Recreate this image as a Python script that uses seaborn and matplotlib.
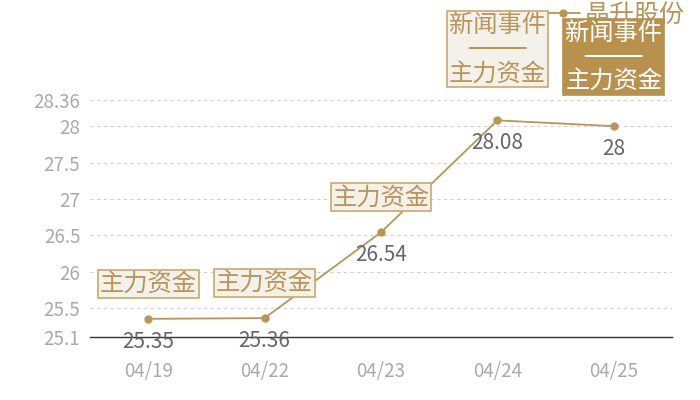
import matplotlib
matplotlib.use("Agg")
import matplotlib.pyplot as plt
import seaborn as sns
import pandas as pd

dates = ["04/19", "04/22", "04/23", "04/24", "04/25"]
prices = [25.35, 25.36, 26.54, 28.08, 28.00]
price_labels = ["25.35", "25.36", "26.54", "28.08", "28"]
events = ["主力资金", "主力资金", "主力资金", "新闻事件\n────\n主力资金", "新闻事件\n────\n主力资金"]
y_ticks = [25.1, 25.5, 26, 26.5, 27, 27.5, 28, 28.36]
y_tick_labels = ["25.1", "25.5", "26", "26.5", "27", "27.5", "28", "28.36"]
series_name = "晶升股份"

sns.set_theme(style="white")
plt.rcParams["font.family"] = ["Noto Sans CJK SC", "DejaVu Sans"]

GOLD = "#b8955a"
df = pd.DataFrame({"date": dates, "price": prices})

fig = plt.figure(figsize=(7, 4), dpi=100)
ax = fig.add_axes([90 / 700, 1 - 337 / 400, (672 - 90) / 700, (337 - 100) / 400])

sns.lineplot(data=df, x="date", y="price", ax=ax, color=GOLD, marker="o",
             markersize=6, markeredgewidth=0, linewidth=1.3, label=series_name, sort=False)

ax.set_xlim(-0.5, 4.5)
ax.set_ylim(25.1, 28.36)
ax.set_yticks(y_ticks)
ax.set_yticklabels(y_tick_labels)
ax.set_xlabel("")
ax.set_ylabel("")
ax.tick_params(axis="y", length=0, pad=7, labelsize=13.5, labelcolor="#aaaaaa")
ax.tick_params(axis="x", length=0, pad=17, labelsize=13.5, labelcolor="#aaaaaa")
ax.grid(axis="y", color="#d0d0d0", linestyle=(0, (3, 3)), linewidth=0.8)
for s in ["left", "right", "top"]:
    ax.spines[s].set_visible(False)
ax.spines["bottom"].set_color("#333333")
ax.spines["bottom"].set_linewidth(1.0)

# value labels
for i, (v, lab) in enumerate(zip(prices, price_labels)):
    ax.annotate(lab, xy=(i, v), xytext=(0, -23), textcoords="offset pixels",
                ha="center", va="center", fontsize=15, color="#666666", zorder=4)

# event boxes
offsets = [35, 35, 35, 71, 69]
for i, (v, ev, dy) in enumerate(zip(prices, events, offsets)):
    if i == 4:
        fc, ec, tc = "#b8914f", "#b8914f", "white"
    else:
        fc, ec, tc = "#f4f0ea", "#c9a86e", "#b8955a"
    ax.annotate(ev, xy=(i, v), xytext=(0, dy), textcoords="offset pixels",
                ha="center", va="center", fontsize=17.5, color=tc, linespacing=1.0,
                family=["DejaVu Sans", "Noto Sans CJK SC"],
                bbox=dict(boxstyle="square,pad=0.08", fc=fc, ec=ec, lw=1.2),
                zorder=10, annotation_clip=False)

leg = ax.legend(loc="center left", bbox_to_anchor=(547 / 700, 1 - 15 / 400),
                bbox_transform=fig.transFigure, frameon=False, fontsize=18,
                handlelength=1.3, handletextpad=0.2, borderpad=0, borderaxespad=0)
for t in leg.get_texts():
    t.set_color(GOLD)
leg.set_zorder(3)

fig.savefig("out.png", dpi=100)
